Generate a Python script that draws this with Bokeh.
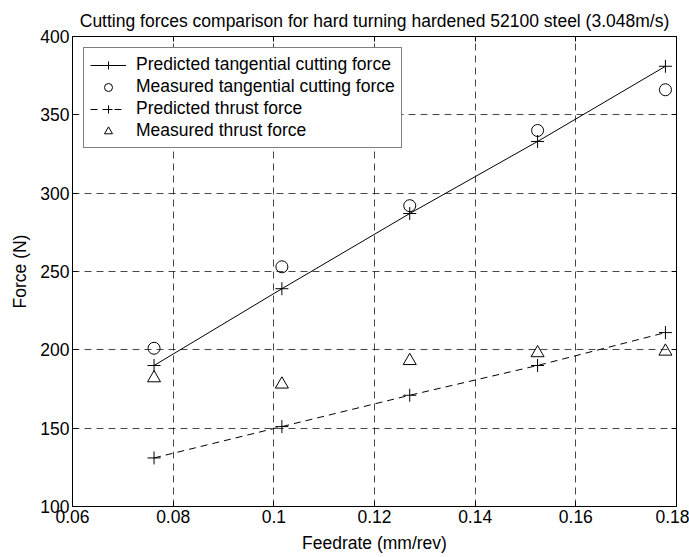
from bokeh.plotting import figure
from bokeh.models import (Range1d, FixedTicker, LinearAxis, Legend, LegendItem,
                          NumeralTickFormatter, CustomJSTickFormatter)
from bokeh.embed import file_html
from bokeh.resources import INLINE

feedrate = [0.0762, 0.1016, 0.127, 0.1524, 0.1778]
pred_tangential = [190, 239, 287, 333, 381]
meas_tangential = [201, 253, 292, 340, 366]
pred_thrust = [131, 151, 171, 190, 211]
meas_thrust = [182, 178, 193, 198, 199]

x_ticks = [0.06, 0.08, 0.10, 0.12, 0.14, 0.16, 0.18]
y_ticks = [100, 150, 200, 250, 300, 350, 400]

FONT = "Liberation Sans"
FS = "17.5px"

p = figure(width=689, height=557, output_backend="svg", toolbar_location=None,
           x_range=Range1d(0.06, 0.18), y_range=Range1d(100, 400),
           min_border_left=72, min_border_right=13, min_border_top=36,
           min_border_bottom=51)

p.title.text = "Cutting forces comparison for hard turning hardened 52100 steel (3.048m/s)"
p.title.align = "center"
p.title.text_font = FONT
p.title.text_font_size = FS
p.title.text_font_style = "normal"
p.title.text_color = "black"
p.title.standoff = 12

p.outline_line_color = "black"
p.outline_line_width = 1

for ax in (p.xaxis[0], p.yaxis[0]):
    ax.major_tick_in = 5
    ax.major_tick_out = 0
    ax.minor_tick_in = 0
    ax.minor_tick_out = 0
    ax.axis_line_color = "black"
    ax.major_tick_line_color = "black"
    ax.major_label_text_font = FONT
    ax.major_label_text_font_size = FS
    ax.major_label_text_color = "black"
    ax.axis_label_text_font = FONT
    ax.axis_label_text_font_size = FS
    ax.axis_label_text_font_style = "normal"
    ax.axis_label_text_color = "black"

p.xaxis[0].ticker = FixedTicker(ticks=x_ticks)
p.yaxis[0].ticker = FixedTicker(ticks=y_ticks)
p.xaxis[0].formatter = NumeralTickFormatter(format="0.[00]")
p.xaxis[0].axis_label = "Feedrate (mm/rev)"
p.yaxis[0].axis_label = "Force (N)"
p.xaxis[0].axis_label_standoff = 7
p.yaxis[0].axis_label_standoff = 7
p.xaxis[0].major_label_standoff = 3
p.yaxis[0].major_label_standoff = 3

blank = CustomJSTickFormatter(code="return ''")
top = LinearAxis(ticker=FixedTicker(ticks=x_ticks), major_tick_in=5, major_tick_out=0,
                 minor_tick_in=0, minor_tick_out=0, formatter=blank,
                 major_label_standoff=0,
                 axis_line_color="black", major_tick_line_color="black")
right = LinearAxis(ticker=FixedTicker(ticks=y_ticks), major_tick_in=5, major_tick_out=0,
                   minor_tick_in=0, minor_tick_out=0, formatter=blank,
                   major_label_standoff=0,
                   axis_line_color="black", major_tick_line_color="black")
p.add_layout(top, "above")
p.add_layout(right, "right")

p.xgrid.ticker = FixedTicker(ticks=x_ticks)
p.ygrid.ticker = FixedTicker(ticks=y_ticks)
for g in (p.xgrid[0], p.ygrid[0]):
    g.grid_line_color = "black"
    g.grid_line_dash = "7 5"
    g.grid_line_width = 0.8
    g.grid_line_alpha = 0.9

l1 = p.line(feedrate, pred_tangential, line_color="black", line_width=1)
s1 = p.scatter(feedrate, pred_tangential, marker="cross", size=13,
               line_color="black", line_width=1)
s2 = p.scatter(feedrate, meas_tangential, marker="circle", size=12,
               line_color="black", fill_color=None, line_width=1)
l3 = p.line(feedrate, pred_thrust, line_color="black", line_width=1, line_dash="7 5")
s3 = p.scatter(feedrate, pred_thrust, marker="cross", size=13,
               line_color="black", line_width=1)
s4 = p.scatter(feedrate, meas_thrust, marker="triangle", size=13,
               line_color="black", fill_color=None, line_width=1)

legend = Legend(items=[
    LegendItem(label="Predicted tangential cutting force", renderers=[l1, s1]),
    LegendItem(label="Measured tangential cutting force", renderers=[s2]),
    LegendItem(label="Predicted thrust force", renderers=[l3, s3]),
    LegendItem(label="Measured thrust force", renderers=[s4]),
], location="top_left")
legend.border_line_color = "black"
legend.border_line_width = 1
legend.background_fill_color = "white"
legend.background_fill_alpha = 1
legend.label_text_font = FONT
legend.label_text_font_size = FS
legend.label_text_color = "black"
legend.margin = 11
legend.padding = 6
legend.spacing = 1
legend.label_height = 20
legend.glyph_height = 20
legend.glyph_width = 36
legend.label_standoff = 10
p.add_layout(legend)

open("out.html", "w").write(file_html(p, INLINE))
